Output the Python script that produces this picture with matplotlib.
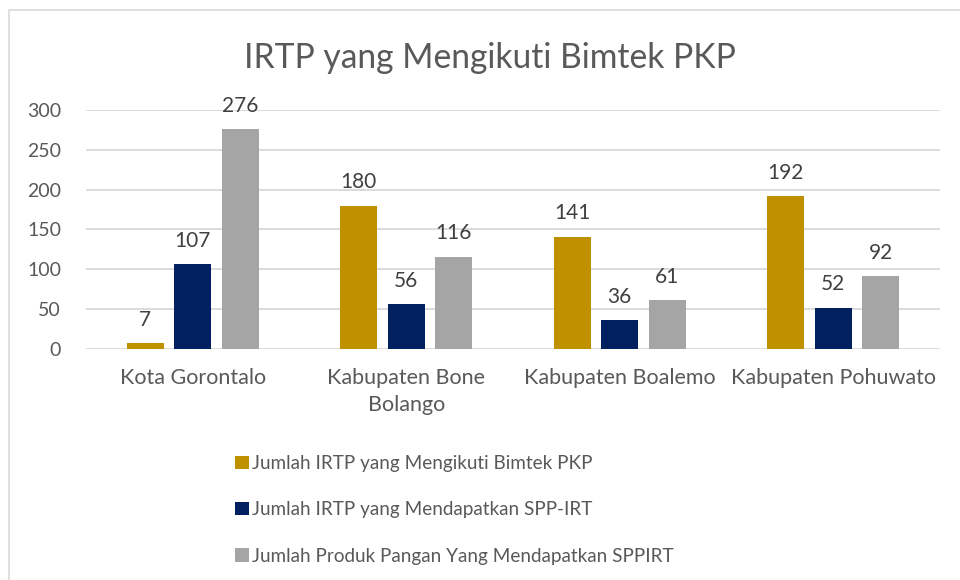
import numpy as np
import matplotlib.pyplot as plt
from matplotlib.patches import Patch, Rectangle

categories = ["Kota Gorontalo", "Kabupaten Bone\nBolango", "Kabupaten Boalemo", "Kabupaten Pohuwato"]
series_names = [
    "Jumlah IRTP yang Mengikuti Bimtek PKP",
    "Jumlah IRTP yang Mendapatkan SPP-IRT",
    "Jumlah Produk Pangan Yang Mendapatkan SPPIRT",
]
bimtek = [7, 180, 141, 192]
spp_irt = [107, 56, 36, 52]
produk = [276, 116, 61, 92]
yticks = [0, 50, 100, 150, 200, 250, 300]

colors = ["#BF9000", "#002060", "#A5A5A5"]
text_color = "#595959"

plt.rcParams['font.family'] = ['Lato', 'DejaVu Sans']

W, H = 960, 580
fig = plt.figure(figsize=(W / 100, H / 100), dpi=100)

# chart area border
fig.patches.append(Rectangle((9 / W, -0.1), 1.1, 1 - 10 / H + 0.1, transform=fig.transFigure,
                             fill=False, edgecolor="#D9D9D9", linewidth=1.2))

ax = fig.add_axes([86 / W, 1 - 349 / H, (940 - 86) / W, (349 - 110) / H])

x = np.arange(len(categories))
width = 0.173
step = 0.222
all_series = [bimtek, spp_irt, produk]
for i, vals in enumerate(all_series):
    bars = ax.bar(x + (i - 1) * step, vals, width, color=colors[i], label=series_names[i], zorder=3)
    for b, v in zip(bars, vals):
        ax.annotate(str(v), (b.get_x() + b.get_width() / 2, v), xytext=(0, 9.5),
                    textcoords="offset points", ha="center", va="bottom",
                    fontsize=15, color="#404040", annotation_clip=False)

ax.set_xlim(-0.5, len(categories) - 0.5)
ax.set_ylim(0, 300)
ax.set_yticks(yticks)
ax.set_xticks(x)
ax.set_xticklabels(categories)
ax.tick_params(length=0, colors=text_color)
ax.tick_params(axis="y", pad=18, labelsize=14)
ax.tick_params(axis="x", pad=14, labelsize=15.5)
for lbl in ax.get_xticklabels():
    lbl.set_linespacing(1.4)
ax.grid(axis="y", color="#D9D9D9", linewidth=1.3, zorder=0)
for s in ax.spines.values():
    s.set_visible(False)

fig.text(490 / W, 1 - 58 / H, "IRTP yang Mengikuti Bimtek PKP", ha="center", va="center",
         fontsize=24.2, color=text_color)

handles = [Patch(facecolor=c, edgecolor="none") for c in colors]
fig.legend(handles, series_names, loc="upper left", bbox_to_anchor=(235 / W, 1 - 455 / H),
           frameon=False, fontsize=13.6, labelcolor=text_color, handlelength=0.72, handleheight=0.72,
           handletextpad=0.2, labelspacing=1.55, borderpad=0, borderaxespad=0)

fig.savefig("out.png", dpi=100)
